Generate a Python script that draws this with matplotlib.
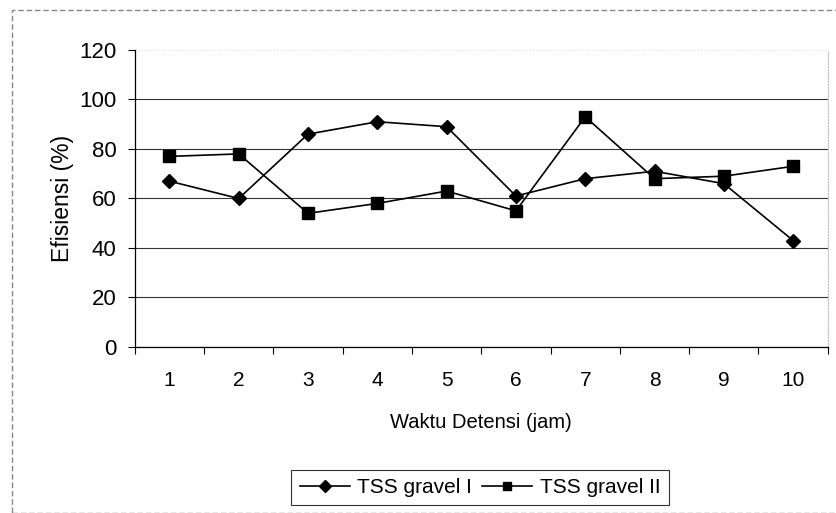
import matplotlib
matplotlib.use('Agg')
import matplotlib.pyplot as plt
from matplotlib.patches import Rectangle

plt.rcParams['font.family'] = ['Liberation Sans', 'DejaVu Sans']

waktu = [1, 2, 3, 4, 5, 6, 7, 8, 9, 10]
gravel_1 = [67, 60, 86, 91, 89, 61, 68, 71, 66, 43]
gravel_2 = [77, 78, 54, 58, 63, 55, 93, 68, 69, 73]
y_ticks = [0, 20, 40, 60, 80, 100, 120]

fig = plt.figure(figsize=(8.37, 5.13), dpi=100)
ax = fig.add_axes([0.161, 0.3236, 0.828, 0.579])

# outer chart border
fig.patches.append(Rectangle((0.014, 0.0), 0.986, 0.981, transform=fig.transFigure,
                             fill=False, edgecolor='#888888', linewidth=1.0, linestyle=(0, (4, 2))))

ax.plot(waktu, gravel_1, color='black', lw=1.2, marker='D', markersize=7.5, label='TSS gravel I')
ax.plot(waktu, gravel_2, color='black', lw=1.2, marker='s', markersize=8, label='TSS gravel II')

ax.set_xlim(0.5, 10.5)
ax.set_ylim(0, 120)
ax.set_yticks(y_ticks)
ax.set_xticks(waktu)
ax.set_xticks([x + 0.5 for x in range(0, 11)], minor=True)
ax.tick_params(axis='x', which='major', length=0, pad=17, labelsize=15)
ax.tick_params(axis='x', which='minor', length=5, direction='out', width=0.8)
ax.tick_params(axis='y', length=5, direction='out', pad=8, labelsize=16, width=0.8)
ax.grid(axis='y', color='#333333', lw=0.8)
ax.yaxis.get_gridlines()[-1].set_color('#dddddd')
ax.yaxis.get_gridlines()[-1].set_linestyle(':')
ax.set_axisbelow(True)
ax.spines['top'].set_visible(False)
ax.spines['right'].set_color('#bbbbbb')
ax.spines['right'].set_linestyle(':')
ax.spines['left'].set_linewidth(0.9)
ax.spines['bottom'].set_linewidth(0.9)

ax.set_ylabel('Efisiensi (%)', fontsize=16.5, labelpad=4)
ax.set_xlabel('Waktu Detensi (jam)', fontsize=14.5, labelpad=17)

leg = fig.legend(loc='center', bbox_to_anchor=(0.5735, 0.0497), ncol=2, fontsize=15,
                 frameon=True, fancybox=False, edgecolor='black', handlelength=2.4,
                 handletextpad=0.35, columnspacing=0.5, borderpad=0.4, markerscale=0.75)
leg.get_frame().set_linewidth(0.8)

fig.savefig('out.png', dpi=100)
